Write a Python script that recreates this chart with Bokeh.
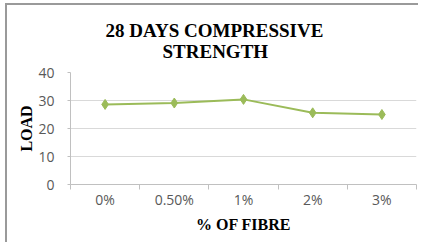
from bokeh.plotting import figure
from bokeh.models import Range1d, FixedTicker, Title
from bokeh.embed import file_html
from bokeh.resources import INLINE

categories = ["0%", "0.50%", "1%", "2%", "3%"]
load = [28.6, 29.1, 30.4, 25.6, 25.0]
y_ticks = [0, 10, 20, 30, 40]
title_lines = ["28 DAYS COMPRESSIVE", "STRENGTH"]

xs = [i + 0.5 for i in range(len(categories))]

p = figure(width=413, height=239, output_backend="svg", toolbar_location=None,
           x_range=Range1d(0, len(categories)), y_range=Range1d(0, 40),
           min_border_left=63, min_border_right=4, min_border_top=67, min_border_bottom=60)
p.title = None
pad = "\u00a0" * 12  # centres the second line under the first
p.add_layout(Title(text=title_lines[0] + "\n" + pad + title_lines[1], align="left",
                   text_font="Liberation Serif", text_font_style="bold",
                   text_font_size="19px", text_color="#000000",
                   standoff=22, offset=35), "above")

p.outline_line_color = None
p.background_fill_color = "white"
p.border_fill_color = "white"
p.styles = {"border-top": "2px solid #9a9a9a", "border-left": "2px solid #9a9a9a",
            "margin-left": "5px", "margin-top": "3px"}

p.line(xs, load, line_color="#9BBB59", line_width=2)
p.scatter(xs, load, marker="diamond", size=10, fill_color="#9BBB59", line_color="#9BBB59")

# x axis
xt = FixedTicker(ticks=xs, minor_ticks=list(range(len(categories) + 1)))
p.xaxis.ticker = xt
p.xaxis.major_label_overrides = {x: c for x, c in zip(xs, categories)}
p.xaxis.major_tick_out = 0
p.xaxis.major_tick_in = 0
p.xaxis.minor_tick_out = 5
p.xaxis.minor_tick_in = 0
p.xaxis.minor_tick_line_color = "#c0c0c0"
p.xaxis.axis_line_color = "#c0c0c0"
p.xaxis.major_label_standoff = 0
p.xaxis.axis_label = "% OF FIBRE"
p.xaxis.axis_label_standoff = 4

# y axis
p.yaxis.ticker = FixedTicker(ticks=y_ticks)
p.yaxis.minor_tick_line_color = None
p.yaxis.major_tick_out = 3
p.yaxis.major_tick_in = 0
p.yaxis.major_tick_line_color = "#c0c0c0"
p.yaxis.axis_line_color = "#c0c0c0"
p.yaxis.major_label_standoff = 13
p.yaxis.axis_label = "LOAD"
p.yaxis.axis_label_standoff = 0

for ax in (p.xaxis, p.yaxis):
    ax.major_label_text_font = "Open Sans"
    ax.major_label_text_font_size = "14px"
    ax.major_label_text_color = "#595959"
    ax.axis_label_text_font = "Liberation Serif"
    ax.axis_label_text_font_style = "bold"
    ax.axis_label_text_font_size = "16px"
    ax.axis_label_text_color = "#000000"

p.xgrid.grid_line_color = None
p.ygrid.ticker = FixedTicker(ticks=y_ticks)
p.ygrid.grid_line_color = "#d9d9d9"

open("out.html", "w").write(file_html(p, INLINE))
